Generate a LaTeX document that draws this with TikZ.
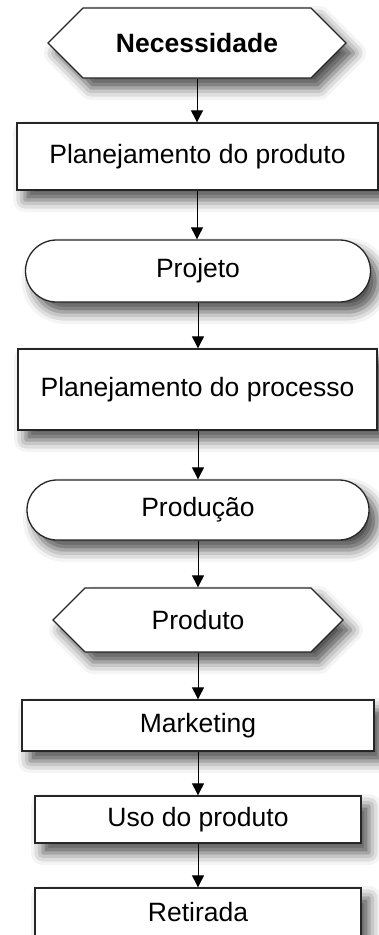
\documentclass[tikz,border=0pt]{standalone}
\usepackage{fontspec}
\setmainfont{Liberation Sans}
\usetikzlibrary{shapes.symbols,shapes.misc,shadows.blur,arrows.meta}
\begin{document}
\begin{tikzpicture}[x=1pt,y=1pt,
	every node/.style={draw=black!85,line width=1.3pt,fill=white,inner sep=0pt,
		font=\fontsize{26.5}{30}\selectfont,
		blur shadow={shadow xshift=8pt,shadow yshift=-10pt,shadow blur radius=12pt,shadow opacity=70}},
	hexa/.style={signal,signal to=west and east,signal pointer angle=90},
	pill/.style={rounded rectangle},
	box/.style={rectangle},
	arr/.style={-{Triangle[length=12pt,width=12pt]},line width=0.9pt}]
	% Page size
	\useasboundingbox (0,0) rectangle (378,-935);

	% Flow steps
	\node[hexa,minimum width=298pt,minimum height=70pt,font=\fontsize{26.5}{30}\selectfont\bfseries] (need) at (197,-43) {Necessidade};
	\node[box,minimum width=361pt,minimum height=67pt] (plprod) at (197.5,-156.5) {Planejamento do produto};
	\node[pill,minimum width=345pt,minimum height=62pt] (proj) at (198,-271) {Projeto};
	\node[box,minimum width=359pt,minimum height=81pt] (plproc) at (197.5,-389.5) {Planejamento do processo};
	\node[pill,minimum width=342pt,minimum height=60pt] (prod) at (198,-510) {Produção};
	\node[hexa,minimum width=290pt,minimum height=64pt] (produto) at (198,-620) {Produto};
	\node[box,minimum width=352pt,minimum height=51pt] (mkt) at (198,-725.5) {Marketing};
	\node[box,minimum width=326pt,minimum height=47pt] (uso) at (198,-819.5) {Uso do produto};
	\node[box,minimum width=326pt,minimum height=48pt] (ret) at (198,-912) {Retirada};

	% Arrows
	\draw[arr] (need.south) -- (need.south |- plprod.north);
	\draw[arr] (plprod.south -| need.south) -- (need.south |- proj.north);
	\draw[arr] (proj.south) -- (plproc.north -| proj.south);
	\draw[arr] (plproc.south -| proj.south) -- (prod.north);
	\draw[arr] (prod.south) -- (produto.north);
	\draw[arr] (produto.south) -- (mkt.north);
	\draw[arr] (mkt.south) -- (uso.north);
	\draw[arr] (uso.south) -- (ret.north);
\end{tikzpicture}
\end{document}
